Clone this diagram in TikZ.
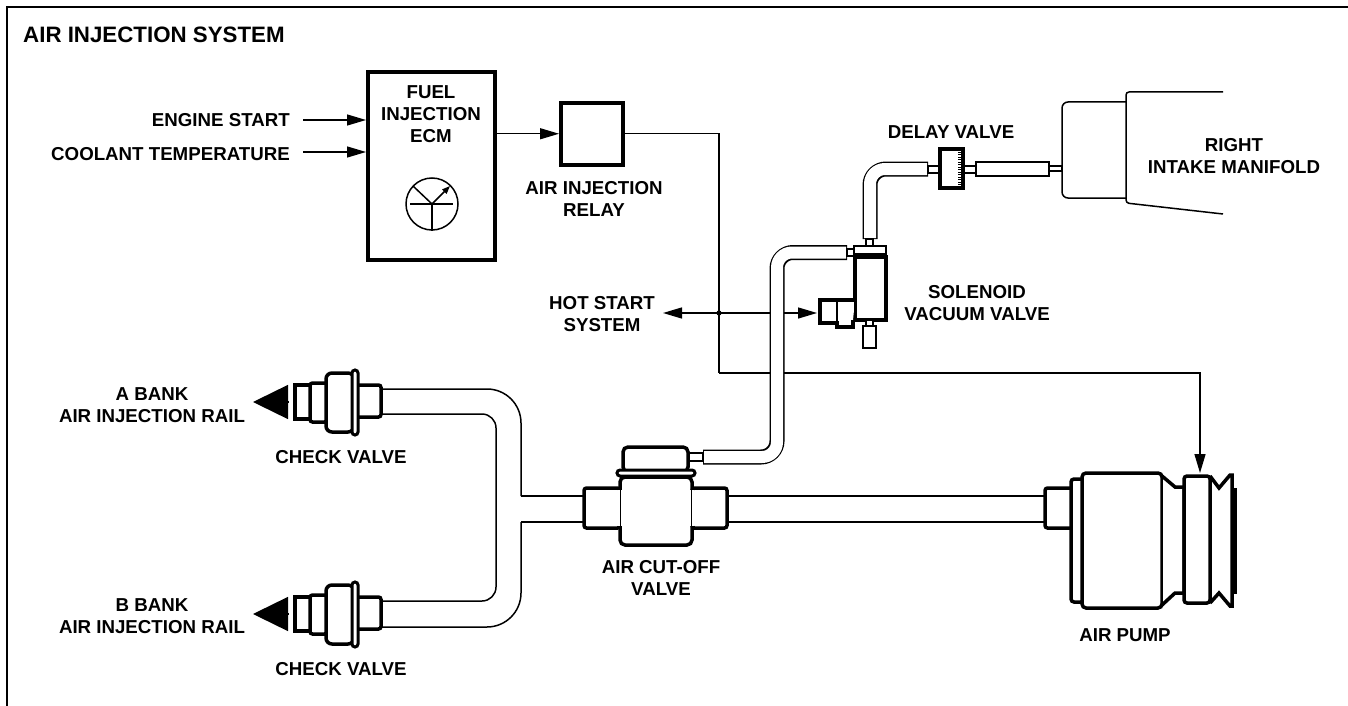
\documentclass[tikz,border=0pt]{standalone}
\usepackage{fontspec}
\setmainfont{Liberation Sans}
\usetikzlibrary{positioning,arrows.meta}

\begin{document}
\begin{tikzpicture}[
      x=1pt, y=-1pt,
      /tikz/font=\bfseries\fontsize{18.7}{22}\selectfont,
      lbl/.style={align=center, inner sep=0pt},
      blockbox/.style={draw, line width=4pt, inner sep=0pt, outer sep=2pt, fill=white},
      part/.style={draw, line width=3.5pt, fill=white, rounded corners=2.5pt},
      fine/.style={draw, line width=1.5pt, fill=white},
      pipe/.style={line width=1.5pt},
      hose/.style={draw, line width=15pt, rounded corners=16pt},
      hosein/.style={draw=white, line width=12pt, rounded corners=15pt},
      wire/.style={line width=1.4pt},
      wirearr/.style={-{Triangle[length=19pt,width=11pt]}, line width=1.4pt},
      railarr/.style={-{Triangle[length=35pt,width=34pt]}, line width=1.4pt},
    ]
    \useasboundingbox (0,0) rectangle (1348,706);

    % frame, open at the bottom and on the right
    \draw[line width=1.4pt] (7,706) -- (7,7) -- (1348,7);
    \node[lbl, anchor=west, font=\bfseries\fontsize{22.3}{24}\selectfont] (title) at (23,35) {AIR INJECTION SYSTEM};

    % ECM and relay
    \node[blockbox, minimum width=127pt, minimum height=188pt] (ecm) at (431.5,166) {};
    \node[blockbox, minimum width=62pt, minimum height=61.5pt] (relay) at (592,133.75) {};
    \node[lbl] (ecmtxt) at (431,114) {FUEL\\INJECTION\\ECM};
    \node[lbl] (relaytxt) at (594,199) {AIR INJECTION\\RELAY};

    % driver symbol
    \node[draw, circle, line width=1.5pt, minimum size=52pt, inner sep=0pt] (drv) at (432,204) {};
    \draw[line width=1.5pt] (drv.center) -- (413,186);
    \draw[line width=1.5pt] (drv.center) -- (drv.south);
    \draw[-{Triangle[length=8pt,width=6pt]}, line width=1.5pt] (drv.center) -- (450,186);
    \draw[line width=2.5pt] (410,204) -- (453,204);

    % inputs
    \node[lbl, anchor=east] (start) at (290,120) {ENGINE START};
    \node[lbl, anchor=east] (cool) at (290,154) {COOLANT TEMPERATURE};
    \coordinate (startin) at (303,120);
    \coordinate (coolin) at (303,152);
    \draw[wirearr] (startin) -- (startin -| ecm.west);
    \draw[wirearr] (coolin) -- (coolin -| ecm.west);
    \draw[wirearr] (ecm.east |- relay.west) -- (relay.west);

    % solenoid valve and relay wiring
    \node[lbl] (hot) at (602,314) {HOT START\\SYSTEM};
    \coordinate (hotend) at (663,313);
    \coordinate (tee) at (719,313);
    \coordinate (bend) at (719,373);
    \coordinate (sol) at (817,313);
    \coordinate (pumpin) at (1200,473);
    \draw[wire] (relay.east) -- (relay.east -| tee) -- (tee) -- (bend);
    \draw[wirearr] (bend) -- (bend -| pumpin) -- (pumpin);
    \draw[wirearr] (tee) -- (hotend);
    \draw[wirearr] (tee) -- (sol);
    \fill (tee) circle (2.6pt);

    % hose from cut-off valve to solenoid valve
    \draw[hose] (703,457) -- (777,457) -- (777,252.5) -- (847,252.5);
    \draw[hosein] (704,457) -- (777,457) -- (777,252.5) -- (846,252.5);
    \draw[fine] (689,453) rectangle (703,461);
    \draw[fine] (847,249) rectangle (854,256);

    % solenoid valve
    \draw[line width=3.5pt, fill=white] (855,257) -- (886,257) -- (886,320) -- (855,320) -- cycle;
    \draw[fine] (854,246) rectangle (886,254);
    \draw[line width=3.5pt, fill=white] (855,300) -- (820,300) -- (820,323) -- (837,323) -- (837,327) -- (853,327) -- (853,320);
    \draw[line width=1.5pt] (837,301) -- (837,323);
    \draw[line width=1.5pt] (855,301) -- (855,320);
    \draw[fine] (866,320) rectangle (873,326);
    \draw[fine] (863,326) rectangle (876,348);
    \node[lbl] (soltxt) at (977,303) {SOLENOID\\VACUUM VALVE};

    % hose to delay valve
    \draw[hose] (870,239) -- (870,169) -- (928,169);
    \draw[hosein] (870,238) -- (870,169) -- (927,169);
    \draw[fine] (866,239) rectangle (873,246);
    \draw[fine] (928,166) rectangle (939,173);
    \draw[fine] (964,166) rectangle (976,173);
    \node[draw, line width=3.5pt, fill=white, minimum width=23pt, minimum height=39pt, inner sep=0pt] (delay) at (951.5,168.5) {};
    \foreach \yy in {152,154.5,...,186}
      \draw[line width=1pt] (958,\yy) -- (962,\yy);
    \node[lbl] (delaytxt) at (951,132) {DELAY VALVE};
    \draw[fine] (976,162) rectangle (1049,176);
    \draw[fine] (1049,166) rectangle (1062,171);

    % intake manifold
    \draw[pipe, rounded corners=6pt] (1062,166) -- (1062,102) -- (1126,102);
    \draw[pipe, rounded corners=6pt] (1062,171) -- (1062,198) -- (1126,198);
    \draw[pipe, rounded corners=3pt] (1223,92) -- (1126,92) -- (1126,203) -- (1223,214);
    \node[lbl] (mantxt) at (1234,156) {RIGHT\\INTAKE MANIFOLD};

    % air rails
    \draw[pipe, rounded corners=34pt] (381,389) -- (521,389) -- (521,496);
    \draw[pipe] (521,496) -- (585,496);
    \draw[pipe, rounded corners=34pt] (381,627) -- (521,627) -- (521,522);
    \draw[pipe] (521,522) -- (585,522);
    \draw[pipe, rounded corners=14pt] (381,414) -- (496,414) -- (496,601) -- (381,601);

    % check valves
    \foreach \yy/\nm in {0/a, 212/b} {
      \begin{scope}[yshift=-\yy pt]
        \draw[part, rounded corners=0pt] (295,385) rectangle (312,419);
        \draw[part] (310,383) rectangle (327,422);
        \draw[part] (356,385) rectangle (381,417);
        \draw[part, rounded corners=6pt] (326,373) rectangle (354,432);
        \draw[line width=3pt, fill=white, rounded corners=3pt] (352,370) rectangle (358,435);
      \end{scope}
    }
    \coordinate (baseA) at (288,402);
    \coordinate (tipA) at (253,402);
    \coordinate (baseB) at (288,614);
    \coordinate (tipB) at (253,614);
    \node[lbl] (bankatxt) at (152,405) {A BANK\\AIR INJECTION RAIL};
    \node[lbl] (bankbtxt) at (152,616) {B BANK\\AIR INJECTION RAIL};
    \node[lbl] (chka) at (341,457) {CHECK VALVE};
    \node[lbl] (chkb) at (341,669) {CHECK VALVE};
    \draw[railarr] (baseA) -- (tipA);
    \draw[railarr] (baseB) -- (tipB);

    % cut-off valve
    \draw[part, rounded corners=5pt] (623,447) rectangle (688,472);
    \draw[part, rounded corners=5pt] (620,477) rectangle (692,545);
    \draw[part] (584,488) rectangle (620,528);
    \draw[part] (692,488) rectangle (727,528);
    \fill[white] (618,490) rectangle (622,526);
    \fill[white] (690,490) rectangle (694,526);
    \draw[line width=1.5pt] (620.5,488) -- (620.5,528);
    \draw[line width=1.5pt] (691.5,488) -- (691.5,528);
    \draw[line width=3pt, fill=white, rounded corners=3pt] (617,470) rectangle (695,476);
    \node[lbl] (cuttxt) at (661,578) {AIR CUT-OFF\\VALVE};

    % line to the pump
    \draw[pipe] (727,496) -- (1045,496);
    \draw[pipe] (727,522) -- (1045,522);

    % air pump
    \draw[part] (1045,488) rectangle (1074,528);
    \draw[part, rounded corners=3pt] (1071,479) rectangle (1084,602);
    \draw[part, rounded corners=4pt] (1082,473) rectangle (1162,608);
    \draw[line width=3.5pt, fill=white] (1162,476) -- (1175,487) -- (1184,487) -- (1184,593) -- (1175,593) -- (1162,605);
    \draw[line width=1.5pt] (1162,476) -- (1162,605);
    \draw[line width=3.5pt, fill=white] (1210,476) -- (1219,488) -- (1230,475) -- (1232,475) -- (1232,606) -- (1230,606) -- (1219,593) -- (1210,603);
    \draw[part, rounded corners=3pt] (1184,476) rectangle (1210,603);
    \draw[line width=4pt] (1234.5,488) -- (1234.5,594);
    \node[lbl] (pumptxt) at (1125,635) {AIR PUMP};
  \end{tikzpicture}
\end{document}
